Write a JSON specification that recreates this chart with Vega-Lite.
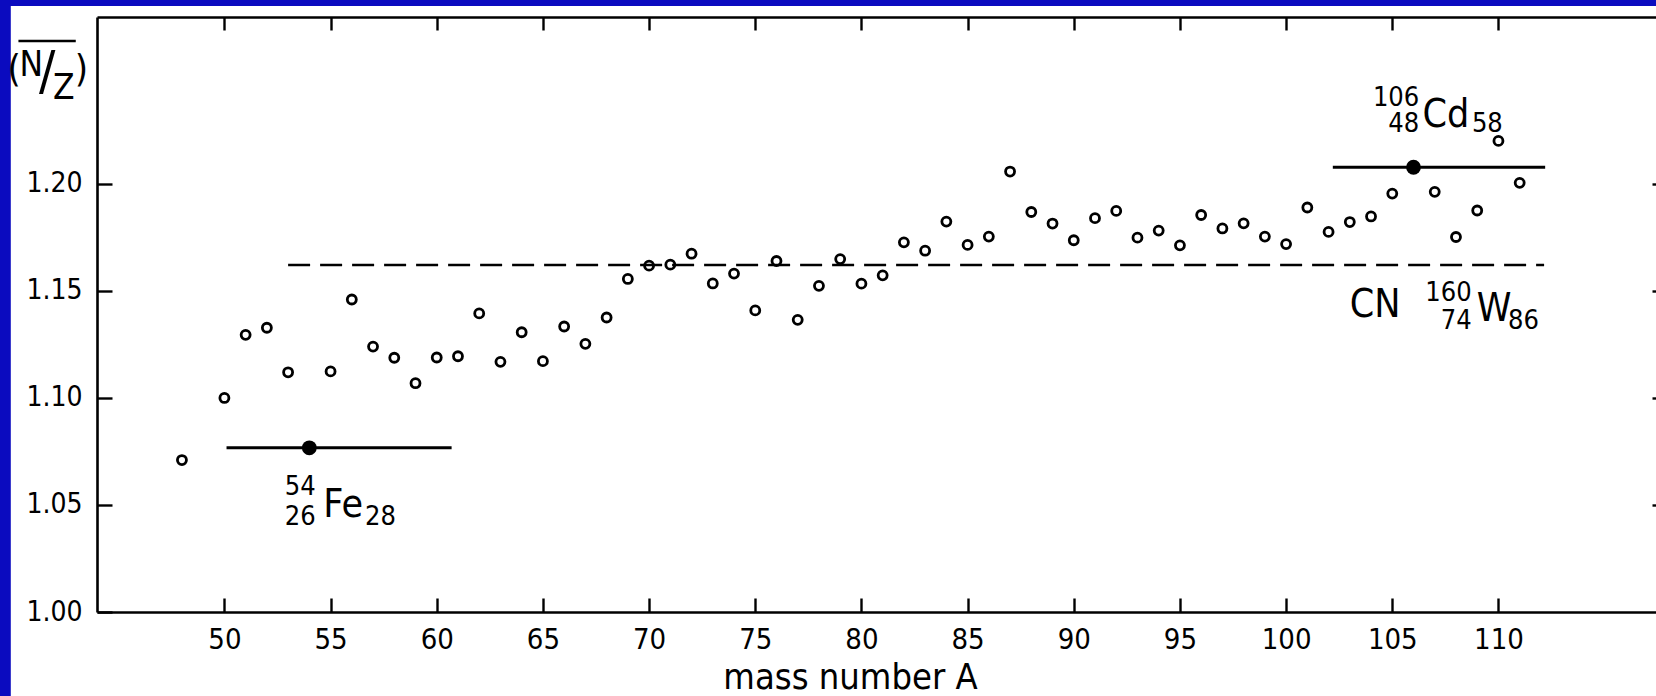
{
  "$schema": "https://vega.github.io/schema/vega-lite/v6.json",
  "width": 1559,
  "height": 595,
  "autosize": {"type": "none"},
  "padding": {"left": 97, "top": 17, "right": 0, "bottom": 84},
  "background": "#0b0bbf",
  "config": {
    "view": {"stroke": null},
    "font": "Liberation Sans Narrow, DejaVu Sans Condensed, DejaVu Sans, sans-serif",
    "axis": {
      "grid": false,
      "domainColor": "black",
      "domainWidth": 2.6,
      "tickColor": "black",
      "tickWidth": 2.4,
      "labelColor": "black",
      "labelFont": "Liberation Sans Narrow, DejaVu Sans Condensed, DejaVu Sans, sans-serif",
      "titleFont": "Liberation Sans Narrow, DejaVu Sans Condensed, DejaVu Sans, sans-serif",
      "titleColor": "black",
      "labelOverlap": false,
      "labelFlush": false,
      "labelBound": false
    },
    "text": {"color": "black"}
  },
  "datasets": {
    "nuclei": [
      {"A": 48, "nz": 1.071}, {"A": 50, "nz": 1.100}, {"A": 51, "nz": 1.1295}, {"A": 52, "nz": 1.1328},
      {"A": 53, "nz": 1.112}, {"A": 55, "nz": 1.1124}, {"A": 56, "nz": 1.146}, {"A": 57, "nz": 1.124},
      {"A": 58, "nz": 1.1188}, {"A": 59, "nz": 1.1069}, {"A": 60, "nz": 1.1189}, {"A": 61, "nz": 1.1195},
      {"A": 62, "nz": 1.1395}, {"A": 63, "nz": 1.1169}, {"A": 64, "nz": 1.1307}, {"A": 65, "nz": 1.1172},
      {"A": 66, "nz": 1.1334}, {"A": 67, "nz": 1.1253}, {"A": 68, "nz": 1.1376}, {"A": 69, "nz": 1.1556},
      {"A": 70, "nz": 1.1618}, {"A": 71, "nz": 1.1623}, {"A": 72, "nz": 1.1674}, {"A": 73, "nz": 1.1535},
      {"A": 74, "nz": 1.1581}, {"A": 75, "nz": 1.1409}, {"A": 76, "nz": 1.164}, {"A": 77, "nz": 1.1365},
      {"A": 78, "nz": 1.1524}, {"A": 79, "nz": 1.1649}, {"A": 80, "nz": 1.1534}, {"A": 81, "nz": 1.1573},
      {"A": 82, "nz": 1.1727}, {"A": 83, "nz": 1.1688}, {"A": 84, "nz": 1.1824}, {"A": 85, "nz": 1.1715},
      {"A": 86, "nz": 1.1754}, {"A": 87, "nz": 1.2058}, {"A": 88, "nz": 1.1869}, {"A": 89, "nz": 1.1815},
      {"A": 90, "nz": 1.1737}, {"A": 91, "nz": 1.184}, {"A": 92, "nz": 1.1874}, {"A": 93, "nz": 1.1749},
      {"A": 94, "nz": 1.1782}, {"A": 95, "nz": 1.1713}, {"A": 96, "nz": 1.1855}, {"A": 97, "nz": 1.1792},
      {"A": 98, "nz": 1.1816}, {"A": 99, "nz": 1.1754}, {"A": 100, "nz": 1.1719}, {"A": 101, "nz": 1.189},
      {"A": 102, "nz": 1.1776}, {"A": 103, "nz": 1.1822}, {"A": 104, "nz": 1.1848}, {"A": 105, "nz": 1.1955},
      {"A": 107, "nz": 1.1963}, {"A": 108, "nz": 1.1752}, {"A": 109, "nz": 1.1876}, {"A": 110, "nz": 1.2201},
      {"A": 111, "nz": 1.2005}
    ],
    "reference": [
      {"name": "54Fe", "A": 54, "nz": 1.0767, "A1": 50.1, "A2": 60.7},
      {"name": "106Cd", "A": 106, "nz": 1.2078, "A1": 102.2, "A2": 112.2}
    ],
    "cn": [
      {"name": "CN", "A1": 53.0, "A2": 112.15, "nz": 1.1621}
    ],
    "labels": [
      {"text": "54", "A": 54.3, "nz": 1.0548, "role": "pre"},
      {"text": "26", "A": 54.3, "nz": 1.0407, "role": "pre"},
      {"text": "Fe", "A": 54.66, "nz": 1.0445, "role": "symbol"},
      {"text": "28", "A": 56.62, "nz": 1.0407, "role": "post"},
      {"text": "106", "A": 106.27, "nz": 1.2363, "role": "pre"},
      {"text": "48", "A": 106.27, "nz": 1.2242, "role": "pre"},
      {"text": "Cd", "A": 106.42, "nz": 1.2265, "role": "symbol"},
      {"text": "58", "A": 108.75, "nz": 1.2242, "role": "post"},
      {"text": "CN", "A": 103.0, "nz": 1.1376, "role": "symbol"},
      {"text": "160", "A": 108.74, "nz": 1.1452, "role": "pre"},
      {"text": "74", "A": 108.74, "nz": 1.132, "role": "pre"},
      {"text": "W", "A": 108.98, "nz": 1.1359, "role": "symbol"},
      {"text": "86", "A": 110.45, "nz": 1.132, "role": "post"},
      {"text": "(", "A": 40.41, "nz": 1.248, "role": "lparen"},
      {"text": "N", "A": 40.9, "nz": 1.2505, "role": "ylabel"},
      {"text": "Z", "A": 42.44, "nz": 1.2396, "role": "ylabel"},
      {"text": ")", "A": 42.95, "nz": 1.248, "role": "rparen"},
      {"text": "/", "A": 41.66, "nz": 1.2443, "role": "slash"}
    ],
    "overline": [
      {"A1": 40.3, "A2": 43.0, "nz": 1.2668}
    ],
    "panel": [
      {"A1": 39.94, "A2": 130, "nz1": 1.2831, "nz2": 0.94}
    ]
  },
  "layer": [
    {
      "data": {"name": "panel"},
      "mark": {"type": "rect", "fill": "white", "stroke": null, "zindex": 0},
      "encoding": {
        "x": {"field": "A1", "type": "quantitative", "scale": {"domain": [44, 117.42], "nice": false, "zero": false}, "axis": null},
        "x2": {"field": "A2"},
        "y": {"field": "nz1", "type": "quantitative", "scale": {"domain": [1.0, 1.278], "nice": false, "zero": false}, "axis": null},
        "y2": {"field": "nz2"}
      }
    },
    {
      "data": {"name": "nuclei"},
      "mark": {"type": "point", "shape": "circle", "filled": false, "stroke": "black", "strokeWidth": 2.8, "size": 81, "opacity": 1, "zindex": 2},
      "encoding": {
        "x": {
          "field": "A", "type": "quantitative",
          "axis": {
            "zindex": 1,
            "orient": "bottom",
            "values": [50, 55, 60, 65, 70, 75, 80, 85, 90, 95, 100, 105, 110],
            "tickSize": -14,
            "labelPadding": 27,
            "labelFontSize": 29,
            "labelBaseline": "top",
            "title": "mass number A",
            "titleFontSize": 36,
            "titleFontWeight": "normal",
            "titleX": 753,
            "titleY": 76,
            "titleAlign": "center",
            "titleBaseline": "alphabetic"
          }
        },
        "y": {
          "field": "nz", "type": "quantitative",
          "axis": {
            "zindex": 1,
            "orient": "left",
            "values": [1.0, 1.05, 1.1, 1.15, 1.2],
            "format": ".2f",
            "tickSize": -15,
            "labelPadding": 30,
            "labelFontSize": 28,
            "title": null
          }
        }
      }
    },
    {
      "data": {"name": "cn"},
      "mark": {"type": "rule", "stroke": "black", "strokeWidth": 2.6, "strokeDash": [22, 10], "zindex": 2},
      "encoding": {
        "x": {
          "field": "A1", "type": "quantitative",
          "axis": {
            "zindex": 1,
            "orient": "top",
            "values": [50, 55, 60, 65, 70, 75, 80, 85, 90, 95, 100, 105, 110],
            "tickSize": -13,
            "labels": false,
            "title": null
          }
        },
        "x2": {"field": "A2"},
        "y": {
          "field": "nz", "type": "quantitative",
          "axis": {
            "zindex": 1,
            "orient": "right",
            "values": [1.05, 1.1, 1.15, 1.2],
            "tickSize": -4,
            "labels": false,
            "domain": false,
            "title": null
          }
        }
      }
    },
    {
      "data": {"name": "reference"},
      "mark": {"type": "rule", "stroke": "black", "strokeWidth": 3, "zindex": 2},
      "encoding": {
        "x": {"field": "A1", "type": "quantitative", "axis": null},
        "x2": {"field": "A2"},
        "y": {"field": "nz", "type": "quantitative", "axis": null}
      }
    },
    {
      "data": {"name": "reference"},
      "mark": {"type": "point", "shape": "circle", "filled": true, "fill": "black", "size": 220, "opacity": 1, "zindex": 2},
      "encoding": {
        "x": {"field": "A", "type": "quantitative", "axis": null},
        "y": {"field": "nz", "type": "quantitative", "axis": null}
      }
    },
    {
      "data": {"name": "overline"},
      "mark": {"type": "rule", "stroke": "black", "strokeWidth": 2.6, "zindex": 2},
      "encoding": {
        "x": {"field": "A1", "type": "quantitative", "axis": null},
        "x2": {"field": "A2"},
        "y": {"field": "nz", "type": "quantitative", "axis": null}
      }
    },
    {
      "data": {"name": "labels"},
      "transform": [{"filter": "datum.role === 'pre'"}],
      "mark": {"type": "text", "fontSize": 27, "align": "right", "baseline": "alphabetic", "zindex": 2},
      "encoding": {
        "x": {"field": "A", "type": "quantitative", "axis": null},
        "y": {"field": "nz", "type": "quantitative", "axis": null},
        "text": {"field": "text"}
      }
    },
    {
      "data": {"name": "labels"},
      "transform": [{"filter": "datum.role === 'post'"}],
      "mark": {"type": "text", "fontSize": 27, "align": "left", "baseline": "alphabetic", "zindex": 2},
      "encoding": {
        "x": {"field": "A", "type": "quantitative", "axis": null},
        "y": {"field": "nz", "type": "quantitative", "axis": null},
        "text": {"field": "text"}
      }
    },
    {
      "data": {"name": "labels"},
      "transform": [{"filter": "datum.role === 'symbol'"}],
      "mark": {"type": "text", "fontSize": 39, "align": "left", "baseline": "alphabetic", "zindex": 2},
      "encoding": {
        "x": {"field": "A", "type": "quantitative", "axis": null},
        "y": {"field": "nz", "type": "quantitative", "axis": null},
        "text": {"field": "text"}
      }
    },
    {
      "data": {"name": "labels"},
      "transform": [{"filter": "datum.role === 'ylabel'"}],
      "mark": {"type": "text", "fontSize": 35, "align": "center", "baseline": "alphabetic", "zindex": 2},
      "encoding": {
        "x": {"field": "A", "type": "quantitative", "axis": null},
        "y": {"field": "nz", "type": "quantitative", "axis": null},
        "text": {"field": "text"}
      }
    },
    {
      "data": {"name": "labels"},
      "transform": [{"filter": "datum.role === 'lparen'"}],
      "mark": {"type": "text", "fontSize": 38, "align": "right", "baseline": "alphabetic", "zindex": 2},
      "encoding": {
        "x": {"field": "A", "type": "quantitative", "axis": null},
        "y": {"field": "nz", "type": "quantitative", "axis": null},
        "text": {"field": "text"}
      }
    },
    {
      "data": {"name": "labels"},
      "transform": [{"filter": "datum.role === 'rparen'"}],
      "mark": {"type": "text", "fontSize": 38, "align": "left", "baseline": "alphabetic", "zindex": 2},
      "encoding": {
        "x": {"field": "A", "type": "quantitative", "axis": null},
        "y": {"field": "nz", "type": "quantitative", "axis": null},
        "text": {"field": "text"}
      }
    },
    {
      "data": {"name": "labels"},
      "transform": [{"filter": "datum.role === 'slash'"}],
      "mark": {"type": "text", "fontSize": 54, "align": "center", "baseline": "alphabetic", "zindex": 2},
      "encoding": {
        "x": {"field": "A", "type": "quantitative", "axis": null},
        "y": {"field": "nz", "type": "quantitative", "axis": null},
        "text": {"field": "text"}
      }
    }
  ],
  "resolve": {"axis": {"x": "independent", "y": "independent"}}
}
